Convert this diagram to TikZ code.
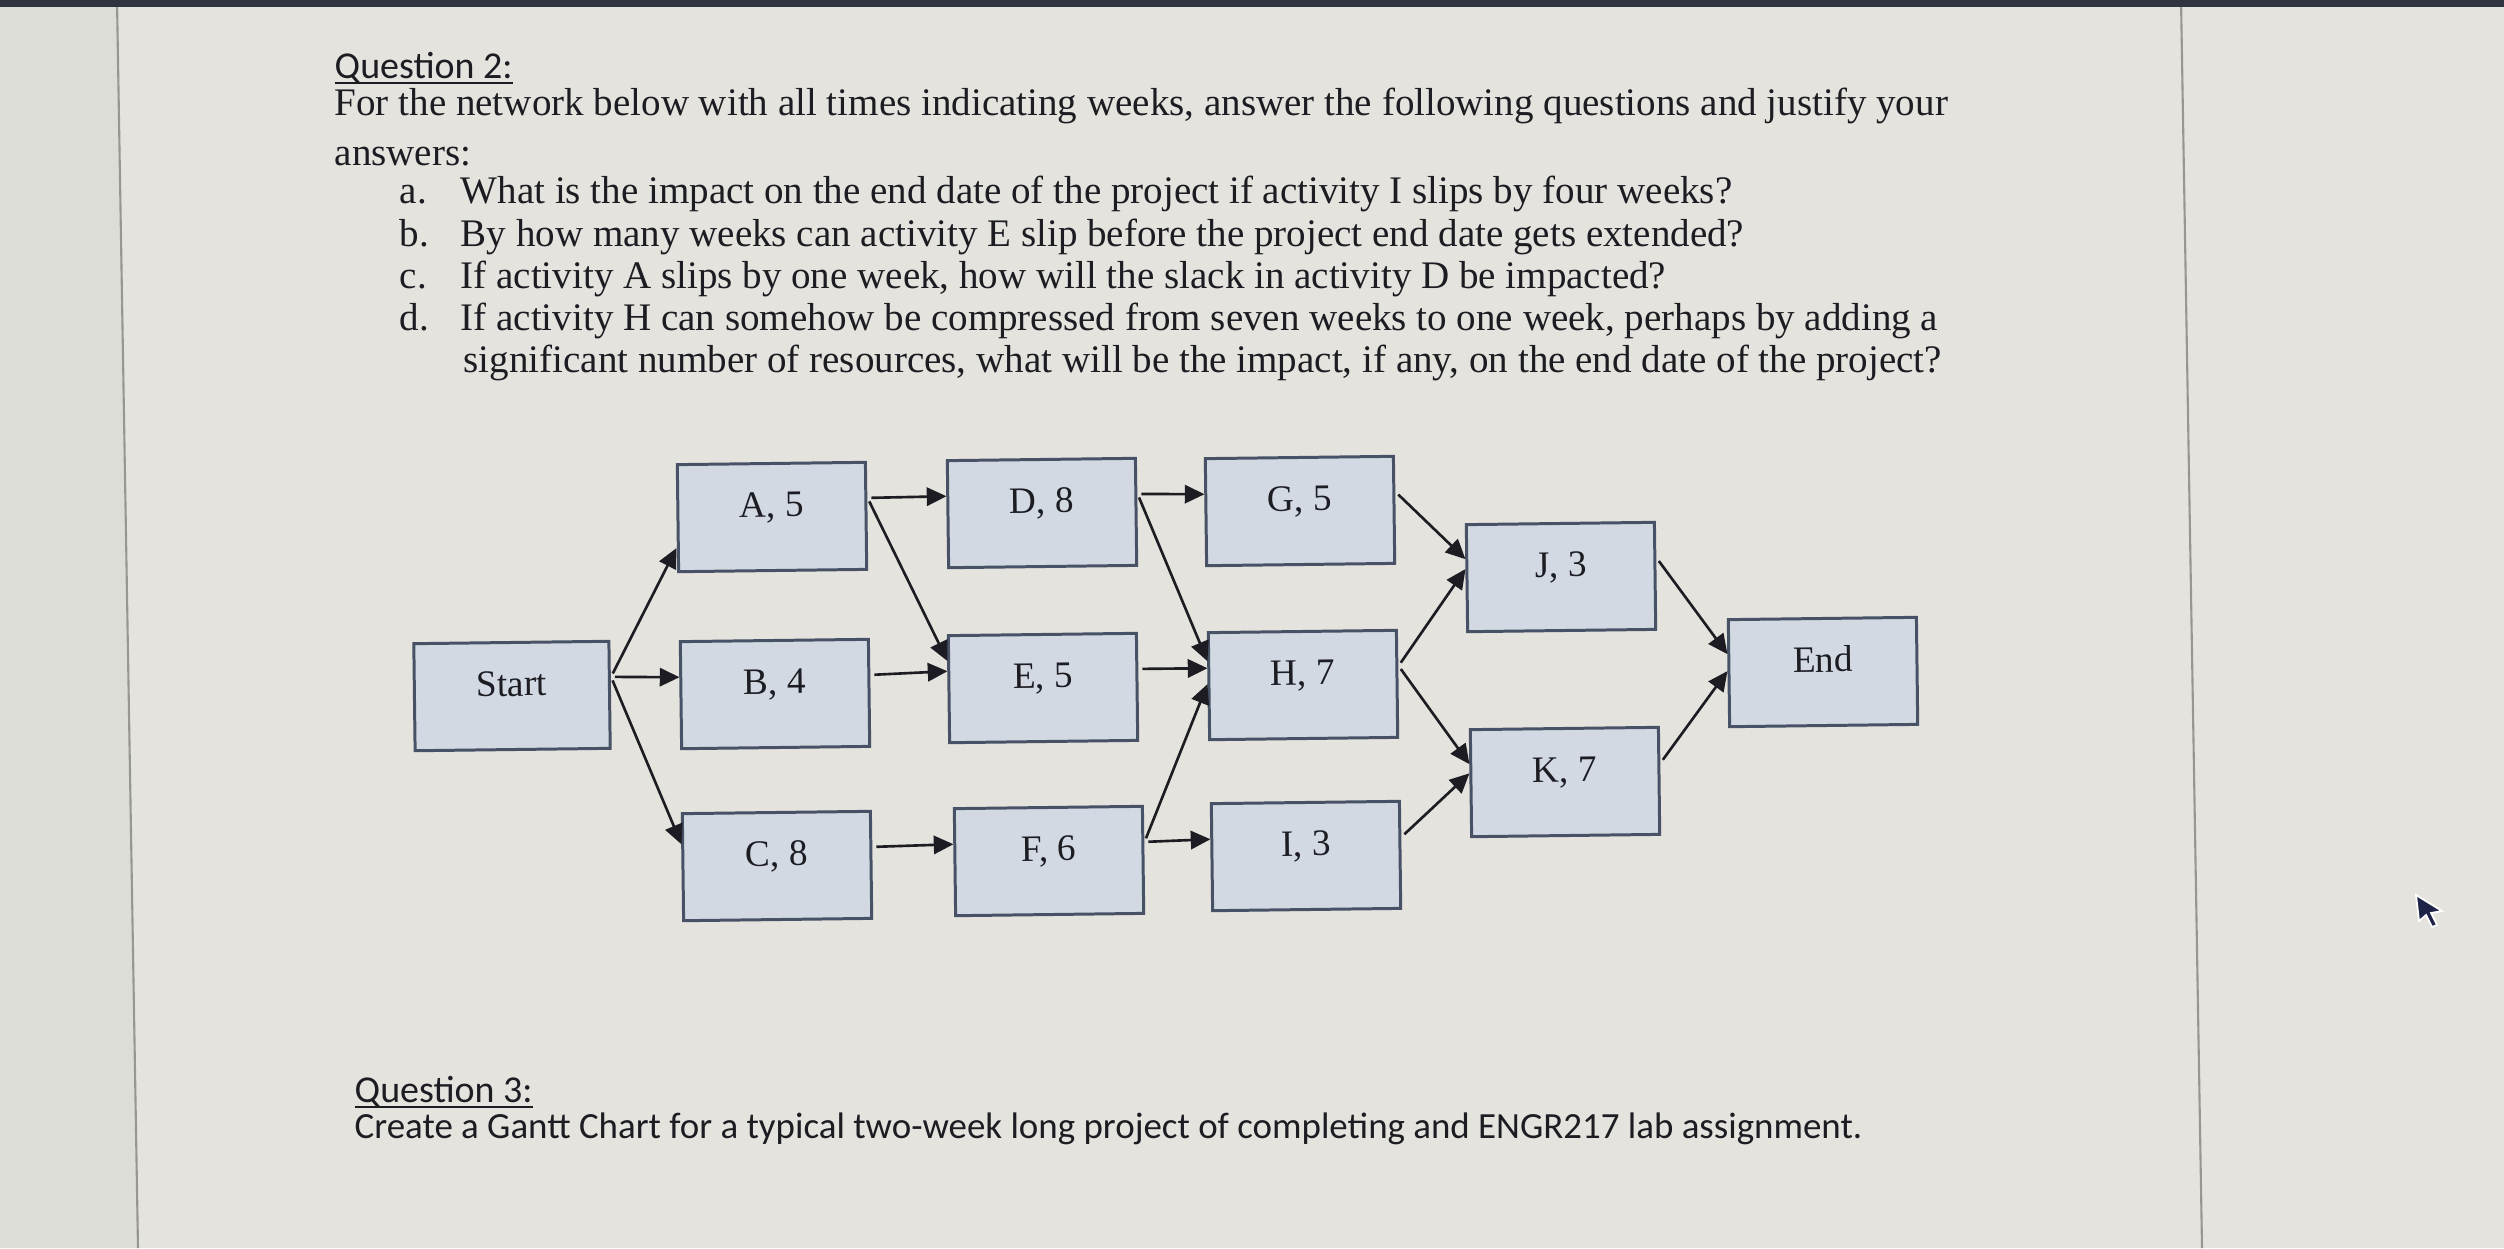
\documentclass[tikz,border=0pt]{standalone}
\usepackage{fontspec}
\setmainfont{Liberation Serif}
\newfontfamily\qfont{Carlito}
\usetikzlibrary{arrows.meta}

\definecolor{paper}{RGB}{229,227,221}
\definecolor{margin}{RGB}{221,221,215}
\definecolor{screenbar}{RGB}{48,52,62}
\definecolor{pageedge}{RGB}{150,150,148}
\definecolor{boxfill}{RGB}{210,217,226}
\definecolor{boxline}{RGB}{72,82,102}
\definecolor{ink}{RGB}{28,28,34}
\definecolor{pointer}{RGB}{30,36,72}

\begin{document}
\begin{tikzpicture}[x=0.01cm, y=-0.01cm, >={Triangle[length=5.6pt, width=5.2pt]}]
\tikzset{
  act/.style={draw=boxline, fill=boxfill, line width=0.85pt, rotate=0.7,
              minimum width=1.88cm, minimum height=1.07cm, inner sep=0pt,
              text height=1ex, text depth=1ex, text=ink,
              font=\fontsize{10.6pt}{12pt}\selectfont},
  link/.style={->, draw=ink, line width=0.75pt, shorten <=1.1pt},
  qline/.style={anchor=base west, inner sep=0pt, text=ink,
                font=\qfont\fontsize{10.8pt}{12pt}\selectfont},
  qitem/.style={qline, font=\fontsize{11.1pt}{13pt}\selectfont}
  };

\def\up{5.1pt}

\fill[paper] (0,0) rectangle (2504,1248);
\useasboundingbox (0,0) rectangle (2504,1248);
\fill[margin] (0,0) -- (117,0) -- (138,1248) -- (0,1248) -- cycle;
\draw[pageedge, line width=0.6pt] (117,0) -- (138,1248);
\draw[pageedge, line width=0.6pt] (2181,0) -- (2202,1248);
\fill[screenbar] (0,0) rectangle (2504,7);

\node[qline] (Q2)     at (334,78)  {\underline{\smash{Question 2:}}};
\node[qitem] (intro1) at (334,115) {For the network below with all times indicating weeks, answer the following questions and justify your};
\node[qitem] (intro2) at (334,165) {answers:};
\node[qitem] (la) at (399,203) {a.};
\node[qitem] (ta) at (460,203) {What is the impact on the end date of the project if activity I slips by four weeks?};
\node[qitem] (lb) at (399,246) {b.};
\node[qitem] (tb) at (460,246) {By how many weeks can activity E slip before the project end date gets extended?};
\node[qitem] (lc) at (399,288) {c.};
\node[qitem] (tc) at (460,288) {If activity A slips by one week, how will the slack in activity D be impacted?};
\node[qitem] (ld) at (399,330) {d.};
\node[qitem] (td) at (460,330) {If activity H can somehow be compressed from seven weeks to one week, perhaps by adding a};
\node[qitem] (td2) at (463,372) {significant number of resources, what will be the impact, if any, on the end date of the project?};
\node[qline] (Q3)    at (354,1102) {\underline{\smash{Question 3:}}};
\node[qline, font=\qfont\fontsize{10.5pt}{12pt}\selectfont] (gantt) at (354,1138) {Create a Gantt Chart for a typical two-week long project of completing and ENGR217 lab assignment.};

\node[act, minimum width=1.95cm] (Start) at (512,696) {Start};
\node[act] (A)   at (772,517)  {A, 5};
\node[act] (B)   at (775,694)  {B, 4};
\node[act] (C)   at (777,866)  {C, 8};
\node[act] (D)   at (1042,513) {D, 8};
\node[act] (E)   at (1043,688) {E, 5};
\node[act] (F)   at (1049,861) {F, 6};
\node[act] (G)   at (1300,511) {G, 5};
\node[act] (H)   at (1303,685) {H, 7};
\node[act] (I)   at (1306,856) {I, 3};
\node[act] (J)   at (1561,577) {J, 3};
\node[act] (K)   at (1565,782) {K, 7};
\node[act] (End) at (1823,672) {End};

\draw ([yshift=\up]Start.east) edge[link] ([yshift=-8.5pt]A.west);
\draw ([yshift=\up]Start.east) edge[link] ([yshift=\up]B.west);
\draw ([yshift=\up]Start.east) edge[link] ([yshift=6.5pt]C.west);

\draw ([yshift=\up]A.east) edge[link] ([yshift=\up]D.west);
\draw ([yshift=\up]A.east) edge[link] ([yshift=8pt]E.west);
\draw ([yshift=\up]B.east) edge[link] ([yshift=\up]E.west);
\draw ([yshift=\up]C.east) edge[link] ([yshift=\up]F.west);

\draw ([yshift=\up]D.east) edge[link] ([yshift=\up]G.west);
\draw ([yshift=\up]D.east) edge[link] ([yshift=7.1pt]H.west);
\draw ([yshift=\up]E.east) edge[link] ([yshift=\up]H.west);
\draw ([yshift=\up]F.east) edge[link] ([yshift=0.6pt]H.west);
\draw ([yshift=\up]F.east) edge[link] ([yshift=\up]I.west);

\draw ([yshift=\up]G.east) edge[link] ([yshift=5.4pt]J.west);
\draw ([yshift=\up]H.east) edge[link] ([yshift=2.6pt]J.west);
\draw ([yshift=\up]H.east) edge[link] ([yshift=5.4pt]K.west);
\draw ([yshift=\up]I.east) edge[link] ([yshift=2.8pt]K.west);

\draw ([yshift=\up]J.east) edge[link] ([yshift=5.4pt]End.west);
\draw ([yshift=\up]K.east) edge[link] ([yshift=0.6pt]End.west);

\filldraw[fill=pointer, draw=white, line width=0.5pt] (2416,895) -- (2442,911) -- (2431,913) -- (2437,925) -- (2432,927) -- (2426,915) -- (2419,921) -- cycle;

\end{tikzpicture}
\end{document}
